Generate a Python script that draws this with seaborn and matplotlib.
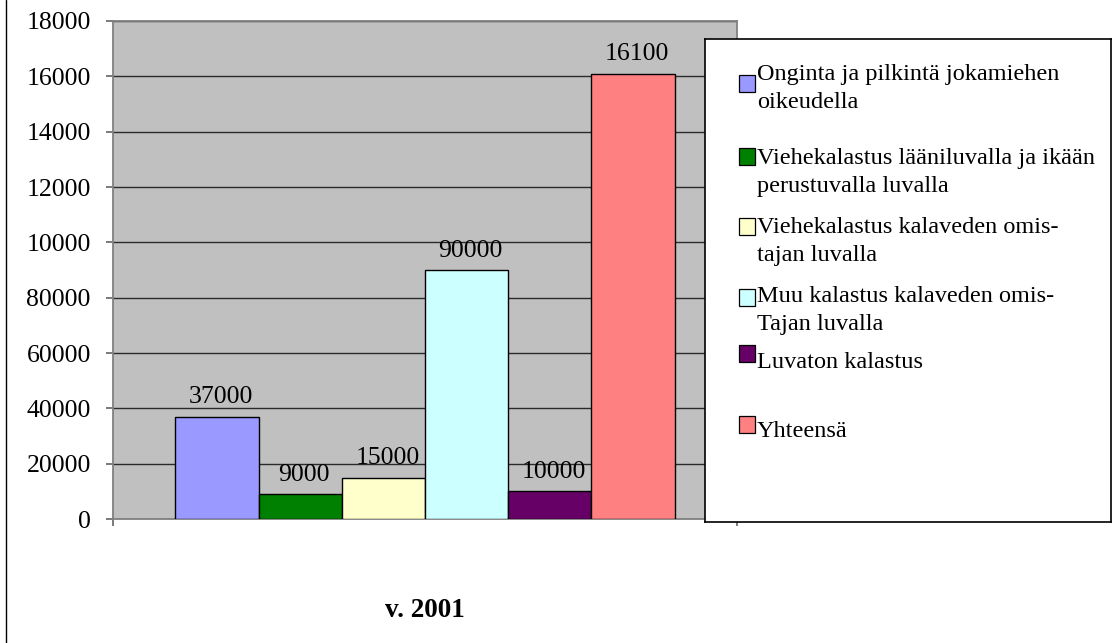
import matplotlib.pyplot as plt
import seaborn as sns
import pandas as pd
from matplotlib.patches import Rectangle
from matplotlib.lines import Line2D

# values as in the source sheet (labels there are cut to 5 characters)
series = [
    "Onginta ja pilkintä jokamiehen\noikeudella",
    "Viehekalastus lääniluvalla ja ikään\nperustuvalla luvalla",
    "Viehekalastus kalaveden omis-\ntajan luvalla",
    "Muu kalastus kalaveden omis-\nTajan luvalla",
    "Luvaton kalastus",
    "Yhteensä",
]
values = [37000, 9000, 15000, 90000, 10000, 161000]
value_labels = ["37000", "9000", "15000", "90000", "10000", "16100"]
colors = ["#9999FF", "#008000", "#FFFFCC", "#CCFFFF", "#660066", "#FF8080"]
category = "v. 2001"
y_ticks = [0, 20000, 40000, 60000, 80000, 100000, 120000, 140000, 160000, 180000]
y_tick_labels = ["0", "20000", "40000", "60000", "80000",
                 "10000", "12000", "14000", "16000", "18000"]

sns.set_theme(style="white")
plt.rcParams["font.family"] = ["Liberation Serif", "DejaVu Serif"]
plt.rcParams["text.color"] = "black"

W, H = 1115, 643
fig = plt.figure(figsize=(W / 100, H / 100), dpi=100)
ax = fig.add_axes([113 / W, 1 - 519 / H, (737 - 113) / W, (519 - 21) / H])

df = pd.DataFrame({"vuosi": [category] * len(values), "laji": series, "arvo": values})
sns.barplot(data=df, x="vuosi", y="arvo", hue="laji", hue_order=series,
            palette=colors, edgecolor="black", linewidth=1, width=0.8,
            saturation=1, legend=False, ax=ax, zorder=3)

ax.set_facecolor("#C0C0C0")
ax.set_ylim(0, 180000)
ax.set_xlim(-0.5, 0.5)
ax.set_yticks(y_ticks)
ax.set_yticklabels(y_tick_labels)
ax.set_xticks([-0.5, 0.5])
ax.set_xticklabels([])
ax.set_xlabel("")
ax.set_ylabel("")
ax.grid(True, axis="y", color="#2a2a2a", linewidth=1, zorder=1)
ax.set_axisbelow(True)
for sp in ax.spines.values():
    sp.set_color("#808080")
    sp.set_linewidth(1.3)
ax.tick_params(axis="both", direction="out", length=5, width=1.3, color="#707070",
               labelsize=18.5, labelcolor="black", left=True, bottom=True)
ax.tick_params(axis="y", pad=11)

for cont, lab in zip(ax.containers, value_labels):
    bar = cont.patches[0]
    ax.annotate(lab, (bar.get_x() + bar.get_width() / 2, bar.get_height()),
                xytext=(3, 9.7), textcoords="offset points", ha="center",
                va="baseline", fontsize=18.5, color="black", zorder=4)

ax.annotate(category, (0, 0), xytext=(0, -70.5), textcoords="offset points",
            ha="center", va="baseline", fontsize=19.5, fontweight="bold",
            color="black", annotation_clip=False)

# legend box drawn on top, in pixel units
lx0, lx1, ly0, ly1 = 705, 1111, 39, 522
lax = fig.add_axes([lx0 / W, 1 - ly1 / H, (lx1 - lx0) / W, (ly1 - ly0) / H])
lax.set_xlim(lx0, lx1)
lax.set_ylim(ly1, ly0)
lax.set_facecolor("white")
lax.set_xticks([])
lax.set_yticks([])
for sp in lax.spines.values():
    sp.set_color("black")
    sp.set_linewidth(1.2)

baselines = [80, 164, 233, 302, 368, 437]
box_tops = [75, 148, 218, 289, 345, 416]
for lab, col, base, top in zip(series, colors, baselines, box_tops):
    lax.add_patch(Rectangle((739, top), 16, 17, facecolor=col,
                            edgecolor="black", linewidth=0.9))
    for i, line in enumerate(lab.split("\n")):
        lax.text(757, base + i * 28, line, va="baseline", ha="left",
                 fontsize=17.5, color="black")

fig.add_artist(Line2D([5.5 / W, 5.5 / W], [0, 1], transform=fig.transFigure,
                      color="black", linewidth=1))

plt.savefig("out.png", dpi=100)
plt.close()
